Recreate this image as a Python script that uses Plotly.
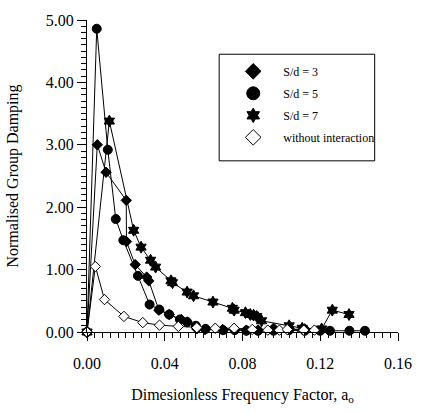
import plotly.graph_objects as go

# Dimensionless frequency factor a_o and normalised group damping per spacing ratio
x_sd3 = [0.0, 0.0053, 0.0098, 0.0202, 0.0203, 0.0248, 0.0307, 0.0318, 0.0370, 0.0423,
         0.0485, 0.0515, 0.0565, 0.0607, 0.0698, 0.0760, 0.0820, 0.0880, 0.0960, 0.1040, 0.1120]
y_sd3 = [0.00, 3.00, 2.56, 2.11, 1.45, 1.08, 0.88, 0.82, 0.35, 0.28,
         0.20, 0.16, 0.05, 0.04, 0.04, 0.04, 0.03, 0.03, 0.06, 0.04, 0.05]

x_sd5 = [0.0, 0.0050, 0.0107, 0.0148, 0.0187, 0.0262, 0.0322, 0.0372, 0.0423, 0.0478,
         0.0515, 0.0560, 0.0610, 0.0700, 0.0760, 0.0820, 0.0880, 0.0960, 0.1040, 0.1120,
         0.1200, 0.1250, 0.1350, 0.1430]
y_sd5 = [0.00, 4.86, 2.92, 1.81, 1.47, 0.90, 0.44, 0.36, 0.28, 0.20,
         0.16, 0.10, 0.05, 0.03, 0.03, 0.02, 0.02, 0.02, 0.03, 0.02,
         0.02, 0.02, 0.02, 0.02]

x_sd7 = [0.0, 0.0115, 0.0240, 0.0278, 0.0327, 0.0353, 0.0432, 0.0440, 0.0515, 0.0548,
         0.0648, 0.0748, 0.0757, 0.0815, 0.0840, 0.0857, 0.0873, 0.0898, 0.1040, 0.1107,
         0.1207, 0.1262, 0.1348]
y_sd7 = [0.00, 3.38, 1.63, 1.36, 1.15, 1.04, 0.82, 0.79, 0.64, 0.58,
         0.48, 0.38, 0.35, 0.31, 0.28, 0.27, 0.25, 0.18, 0.10, 0.06,
         0.05, 0.35, 0.28]

x_noint = [0.0, 0.0043, 0.0090, 0.0190, 0.0287, 0.0373, 0.0470, 0.0565, 0.0660, 0.0757,
           0.0850, 0.0930, 0.0990, 0.1030, 0.1115, 0.1170]
y_noint = [0.00, 1.05, 0.52, 0.25, 0.15, 0.11, 0.09, 0.07, 0.06, 0.06,
           0.04, 0.03, 0.03, 0.04, 0.03, 0.03]

series_names = ["S/d = 3", "S/d = 5", "S/d = 7", "without interaction"]
x_ticks = [0.0, 0.04, 0.08, 0.12, 0.16]
y_ticks = [0.0, 1.0, 2.0, 3.0, 4.0, 5.0]

FONT = "Liberation Serif"

styles = [
    dict(symbol="diamond", size=8, color="black", line=dict(color="black", width=1)),
    dict(symbol="circle", size=9, color="black", line=dict(color="black", width=1)),
    dict(symbol="hexagram", size=9, color="black", line=dict(color="black", width=1)),
    dict(symbol="diamond", size=8, color="white", line=dict(color="black", width=1)),
]
legend_styles = [
    dict(symbol="diamond", size=12, color="black", line=dict(color="black", width=1)),
    dict(symbol="circle", size=13, color="black", line=dict(color="black", width=1)),
    dict(symbol="hexagram", size=11, color="black", line=dict(color="black", width=1)),
    dict(symbol="diamond", size=12, color="white", line=dict(color="black", width=1)),
]

data = [(x_sd3, y_sd3), (x_sd5, y_sd5), (x_sd7, y_sd7), (x_noint, y_noint)]

fig = go.Figure()
for (xs, ys), st in zip(data, styles):
    fig.add_trace(go.Scatter(x=xs, y=ys, mode="lines+markers",
                             line=dict(color="black", width=1),
                             marker=st, showlegend=False, cliponaxis=False))

# legend entries with enlarged symbols
for i, (name, st) in enumerate(zip(series_names, legend_styles)):
    fig.add_trace(go.Scatter(x=[None], y=[None], mode="markers", name=name,
                             marker=st, legendgroup=f"g{i}", showlegend=True))

axis_common = dict(
    showline=True, linecolor="black", linewidth=1, mirror=False,
    showgrid=False, zeroline=False, ticks="outside", tickcolor="black",
    tickwidth=1, tickfont=dict(family=FONT, size=16, color="black"),
)

fig.update_xaxes(range=[0, 0.16], tickvals=x_ticks, tickformat=".2f", ticklen=8,
                 ticklabelstandoff=9,
                 minor=dict(dtick=0.004, ticks="outside", ticklen=5, tickcolor="black", tickwidth=1),
                 title=dict(text="Dimesionless Frequency Factor, a<sub>o</sub>",
                            font=dict(family=FONT, size=16, color="black"), standoff=17),
                 **axis_common)
fig.update_yaxes(range=[0, 5], tickvals=y_ticks, tickformat=".2f", ticklen=9,
                 minor=dict(dtick=0.1, ticks="outside", ticklen=5, tickcolor="black", tickwidth=1),
                 title=dict(text="Normalised Group Damping",
                            font=dict(family=FONT, size=16, color="black"), standoff=23),
                 **axis_common)

# legend frame
fig.add_shape(type="rect", xref="paper", yref="paper",
              x0=0.425, x1=0.925, y0=0.5486, y1=0.8903,
              line=dict(color="black", width=1), fillcolor="rgba(0,0,0,0)")

fig.update_layout(
    width=424, height=412,
    margin=dict(l=87, r=17, t=15, b=78),
    paper_bgcolor="white", plot_bgcolor="white",
    showlegend=True,
    legend=dict(x=0.438, y=0.882, xanchor="left", yanchor="top",
                bgcolor="rgba(0,0,0,0)", borderwidth=0,
                font=dict(family=FONT, size=12, color="black"),
                tracegroupgap=3, itemwidth=50),
)

fig.write_html("out.html")
